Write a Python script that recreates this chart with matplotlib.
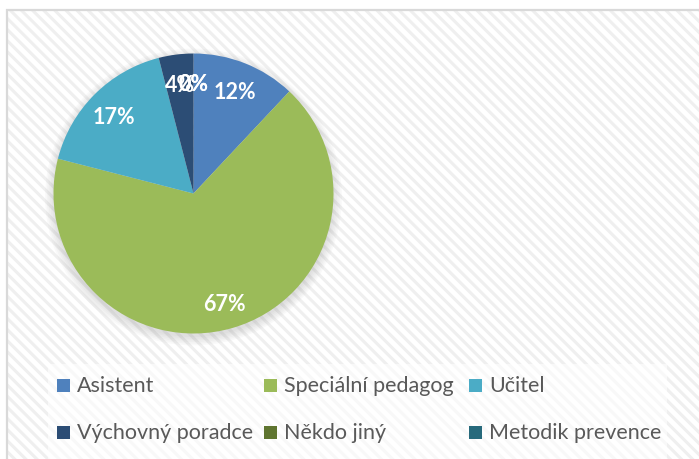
import matplotlib
matplotlib.use("Agg")
import matplotlib.pyplot as plt
from matplotlib.patches import Rectangle, Circle

# ---- data ----
categories = ["Asistent", "Speciální pedagog", "Učitel",
              "Výchovný poradce", "Někdo jiný", "Metodik prevence"]
values = [12, 67, 17, 4, 0, 0]
colors = ["#4F81BD", "#9BBB59", "#4BACC6", "#2C4D75", "#5F7530", "#276A7C"]

W, H = 699, 460
plt.rcParams["font.family"] = ["Lato", "DejaVu Sans"]
plt.rcParams["hatch.linewidth"] = 2.2

fig = plt.figure(figsize=(W / 100, H / 100), dpi=100)
fig.patch.set_facecolor("white")


def fx(px):
    return px / W


def fy(py):
    return 1 - py / H


# chart area background with diagonal stripes
bg = Rectangle((fx(7), fy(470)), fx(710) - fx(7), fy(11) - fy(470),
               transform=fig.transFigure, facecolor="white",
               edgecolor="#efefef", hatch="\\\\\\", linewidth=0, zorder=-3)
fig.patches.append(bg)
border = Rectangle((fx(7), fy(470)), fx(710) - fx(7), fy(11) - fy(470),
                   transform=fig.transFigure, facecolor="none",
                   edgecolor="#d9d9d9", linewidth=1.6, zorder=-2)
fig.patches.append(border)

# legend background box
lbox = Rectangle((fx(48), fy(470)), fx(667) - fx(48), fy(365) - fy(470),
                 transform=fig.transFigure, facecolor="white", alpha=0.6,
                 edgecolor="none", zorder=-1)
fig.patches.append(lbox)

# pie
cx, cy, R = 193.5, 194.5, 140
ax = fig.add_axes([fx(cx - R), fy(cy + R), 2 * R / W, 2 * R / H])
ax.set_zorder(2)
ax.set_xlim(-1, 1)
ax.set_ylim(-1, 1)
ax.set_aspect("equal")
ax.axis("off")
ax.patch.set_alpha(0)

# soft shadow
for k in range(6):
    ax.add_patch(Circle((0.0, -0.025), 1.0 + 0.012 * k, facecolor="#808080",
                        alpha=0.045, edgecolor="none", zorder=0,
                        clip_on=False))

wedges, texts, autotexts = ax.pie(
    values, colors=colors, startangle=90, counterclock=False,
    autopct="%1.0f%%", pctdistance=0.8, radius=1.0,
    wedgeprops=dict(linewidth=0),
    textprops=dict(color="white", fontsize=15.5, fontweight="bold"))
for w in wedges:
    w.set_zorder(2)
for t in autotexts:
    t.set_zorder(3)
    t.set_va("center_baseline")
ax.set_xlim(-1, 1)
ax.set_ylim(-1, 1)

# legend (Excel-style equal-width slots)
col_x = [57, 264, 469]
row_y = [386, 433]
msize = 13
for i, (lab, col) in enumerate(zip(categories, colors)):
    r, c = divmod(i, 3)
    x0, yc = col_x[c], row_y[r]
    fig.patches.append(Rectangle((fx(x0), fy(yc + msize / 2)), msize / W, msize / H,
                                 transform=fig.transFigure, facecolor=col,
                                 edgecolor="none", zorder=3))
    fig.text(fx(x0 + msize + 7), fy(yc), lab, fontsize=15.5, color="#595959",
             va="center", ha="left", zorder=4)

fig.savefig("out.png", dpi=100)
